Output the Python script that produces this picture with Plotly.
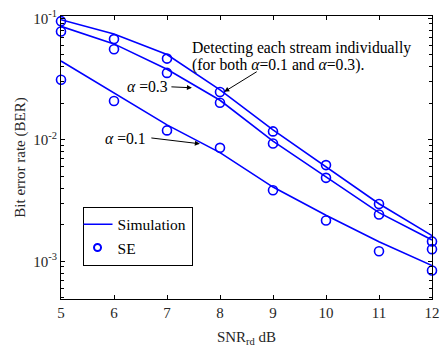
import plotly.graph_objects as go

snr = [5, 6, 7, 8, 9, 10, 11, 12]

sim_ind = [0.0975, 0.0743, 0.0505, 0.0258, 0.0121, 0.00605, 0.00298, 0.00163]
sim_a03 = [0.0861, 0.0617, 0.0382, 0.0212, 0.00976, 0.00493, 0.00252, 0.00150]
sim_a01 = [0.0446, 0.0243, 0.0133, 0.00785, 0.00409, 0.00240, 0.00145, 0.000923]

se_ind = [0.0950, 0.0676, 0.0467, 0.0248, 0.01175, 0.00620, 0.00297, 0.00146]
se_a03 = [0.0780, 0.0557, 0.0356, 0.0202, 0.00933, 0.00487, 0.00243, 0.00126]
se_a01 = [0.0313, 0.0209, 0.01197, 0.00860, 0.00385, 0.00217, 0.00121, 0.00084]

ytick_vals = [1e-3, 1e-2, 1e-1]
ytick_text = ["10<sup>-3</sup>", "10<sup>-2</sup>", "10<sup>-1</sup>"]

BLUE = "#0000FF"
FONT = "Liberation Serif"
TXT = "#262626"

fig = go.Figure()
for i, s in enumerate([sim_ind, sim_a03, sim_a01]):
    fig.add_trace(go.Scatter(x=snr, y=s, mode="lines", name="Simulation",
                             line=dict(color=BLUE, width=1.6),
                             showlegend=(i == 0)))
for s in [se_ind, se_a03, se_a01]:
    fig.add_trace(go.Scatter(x=snr, y=s, mode="markers", name="SE", cliponaxis=False,
                             marker=dict(symbol="circle-open", color=BLUE, size=9,
                                         line=dict(width=1.6, color=BLUE)),
                             showlegend=False))
# legend-only entry for SE (smaller symbol as in reference legend)
fig.add_trace(go.Scatter(x=[None], y=[None], mode="markers", name="SE",
                         marker=dict(symbol="circle-open", color=BLUE, size=7,
                                     line=dict(width=2, color=BLUE))))

axis_common = dict(showline=True, linecolor="black", linewidth=1, mirror="ticks",
                   ticks="inside", ticklen=4, tickcolor="black", showgrid=False,
                   zeroline=False, tickfont=dict(family=FONT, size=15, color=TXT))

fig.update_xaxes(range=[5, 12], tickvals=snr, **axis_common,
                 title=dict(text="SNR<sub>rd</sub> dB", font=dict(family=FONT, size=15, color=TXT),
                            standoff=11))
fig.update_yaxes(type="log", range=[-3.31, -0.98], tickvals=ytick_vals, ticktext=ytick_text,
                 minor=dict(ticks="inside", ticklen=3, tickcolor="black",
                            tickvals=[m * 10 ** e for e in (-4, -3, -2) for m in range(2, 10)]),
                 **axis_common,
                 title=dict(text="Bit error rate (BER)", font=dict(family=FONT, size=15, color=TXT),
                            standoff=4))

arrow = dict(showarrow=True, arrowhead=2, arrowsize=1, arrowwidth=1, arrowcolor="black",
             text="", axref="pixel", ayref="pixel")
fig.add_annotation(x=8.08, y=-1.604, ax=34, ay=-21, **arrow)
fig.add_annotation(x=7.47, y=-1.571, ax=-22, ay=-1, **arrow)
fig.add_annotation(x=7.62, y=-2.032, ax=-50, ay=-6, **arrow)

tfont = dict(family=FONT, size=15.7, color="black")
fig.add_annotation(x=7.44, y=-1.240, text="Detecting each stream individually",
                   showarrow=False, xanchor="left", font=tfont)
fig.add_annotation(x=7.44, y=-1.386, text="(for both <i>α</i>=0.1 and <i>α</i>=0.3).",
                   showarrow=False, xanchor="left", font=tfont)
fig.add_annotation(x=7.06, y=-1.563, text="<i>α</i> =0.3",
                   showarrow=False, xanchor="right", font=tfont)
fig.add_annotation(x=6.65, y=-1.992, text="<i>α</i> =0.1",
                   showarrow=False, xanchor="right", font=tfont)

fig.update_layout(
    width=448, height=354,
    margin=dict(l=61, r=8, t=11, b=55),
    plot_bgcolor="white", paper_bgcolor="white",
    font=dict(family=FONT, size=15, color="black"),
    legend=dict(x=0.058, y=0.326, xanchor="left", yanchor="top",
                bgcolor="white", bordercolor="black", borderwidth=1,
                font=dict(family=FONT, size=15.5, color="black"),
                tracegroupgap=0, itemwidth=30, indentation=-6),
)

fig.write_html("out.html")
